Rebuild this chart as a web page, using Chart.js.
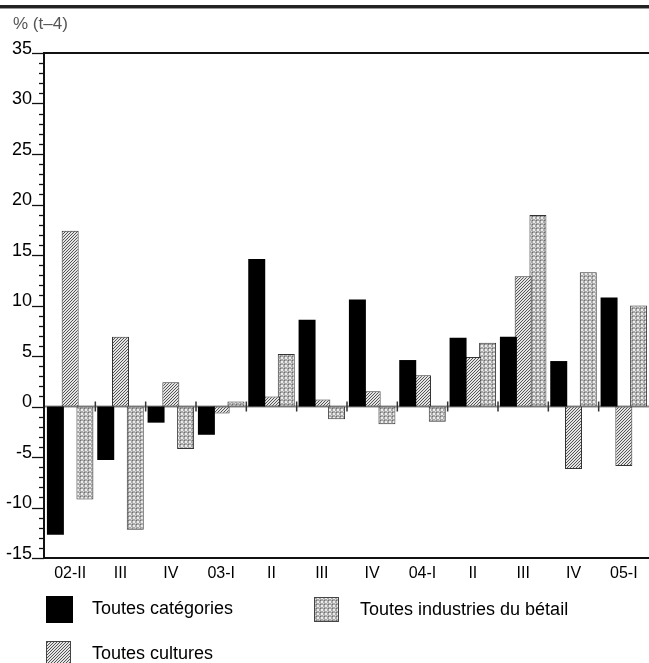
<!DOCTYPE html>
<html>
<head>
<meta charset="utf-8">
<script src="https://cdn.jsdelivr.net/npm/chart.js@4/dist/chart.umd.min.js"></script>
<style>
  html, body { margin: 0; padding: 0; background: #fff; }
  canvas { display: block; }
</style>
</head>
<body>
<canvas id="chart" width="649" height="663"></canvas>
<script>
// Data
const categories = ['02-II', 'III', 'IV', '03-I', 'II', 'III', 'IV', '04-I', 'II', 'III', 'IV', '05-I'];
const toutesCategories = [-12.7, -5.3, -1.6, -2.8, 14.6, 8.6, 10.6, 4.6, 6.8, 6.9, 4.5, 10.8];
const toutesCultures = [17.4, 6.9, 2.4, -0.7, 1.0, 0.7, 1.5, 3.1, 4.9, 12.9, -6.2, -5.9];
const toutesBetail = [-9.2, -12.2, -4.2, 0.5, 5.2, -1.25, -1.75, -1.5, 6.3, 18.95, 13.3, 10.0];
const yTicks = { min: -15, max: 35, step: 5 };
const unitLabel = '% (t\u20134)';

const FONT = '"Liberation Sans", Arial, Helvetica, sans-serif';

// Fill patterns
function makePattern(draw, size) {
    const c = document.createElement('canvas');
    c.width = size; c.height = size;
    const g = c.getContext('2d');
    draw(g);
    return g.createPattern(c, 'repeat');
}

// diagonal hatching, 3px spacing
const hatchPattern = makePattern(function(g) {
    g.fillStyle = '#e4e4e4';
    g.fillRect(0, 0, 3, 3);
    g.fillStyle = '#555';
    for (let i = 0; i < 3; i++) g.fillRect(i, 2 - i, 1, 1);
}, 3);

// small checked lattice
const dotPattern = makePattern(function(g) {
    g.fillStyle = '#a8a8a8';
    g.fillRect(0, 0, 4, 4);
    g.fillStyle = '#ececec';
    g.fillRect(1, 1, 2, 2);
    g.fillStyle = '#dcdcdc';
    g.fillRect(3, 3, 1, 1);
    g.fillStyle = '#6e6e6e';
    g.fillRect(0, 0, 1, 1);
}, 4);

function line(ctx, x1, y1, x2, y2) {
    ctx.beginPath();
    ctx.moveTo(x1, y1);
    ctx.lineTo(x2, y2);
    ctx.stroke();
}

// Zero line, frame, minor ticks, unit label and legend
const decor = {
    id: 'decor',
    beforeDatasetsDraw(chart) {
        const { ctx, chartArea: a, scales: { x, y } } = chart;
        const y0 = y.getPixelForValue(0);
        ctx.save();
        ctx.strokeStyle = '#8c8c8c';
        ctx.lineWidth = 2;
        line(ctx, a.left, y0, a.right, y0);
        ctx.strokeStyle = '#333';
        ctx.lineWidth = 1.5;
        for (let i = 1; i < categories.length; i++) {
            const bx = (x.getPixelForValue(i - 1) + x.getPixelForValue(i)) / 2;
            line(ctx, bx, y0 - 5, bx, y0 + 5);
        }
        ctx.restore();
    },
    afterDraw(chart) {
        const { ctx, chartArea: a, scales: { y } } = chart;
        ctx.save();

        // thick rule at the very top
        ctx.fillStyle = '#222';
        ctx.fillRect(0, 5, chart.width, 3);
        ctx.fillStyle = '#999';
        ctx.fillRect(0, 8, chart.width, 1);

        // frame
        ctx.strokeStyle = '#111';
        ctx.lineWidth = 2;
        line(ctx, a.left - 1, a.top, a.right, a.top);
        line(ctx, a.left - 1, a.top - 1, a.left - 1, a.bottom + 1);
        line(ctx, a.left - 1, a.bottom, a.right, a.bottom);

        // y ticks: major every 5, minor every 1
        ctx.lineWidth = 1.3;
        for (let v = yTicks.min; v <= yTicks.max; v++) {
            const py = Math.round(y.getPixelForValue(v)) + 0.5;
            const len = v % yTicks.step === 0 ? 12 : 5;
            line(ctx, a.left - 1 - len, py, a.left - 1, py);
        }

        // unit label
        ctx.fillStyle = '#555';
        ctx.font = '17px ' + FONT;
        ctx.textAlign = 'left';
        ctx.textBaseline = 'alphabetic';
        ctx.fillText(unitLabel, 13, 29);

        // legend
        const items = [
            { label: chart.data.datasets[0].label, fill: '#000', border: false, bx: 46, by: 596 },
            { label: chart.data.datasets[2].label, fill: dotPattern, border: true, bx: 314, by: 597 },
            { label: chart.data.datasets[1].label, fill: hatchPattern, border: true, bx: 46, by: 641 }
        ];
        ctx.font = '18px ' + FONT;
        ctx.textBaseline = 'middle';
        items.forEach(function(it) {
            const size = it.border ? 25 : 27;
            ctx.fillStyle = it.fill;
            ctx.fillRect(it.bx, it.by, size, size);
            if (it.border) {
                ctx.strokeStyle = '#444';
                ctx.lineWidth = 1;
                ctx.strokeRect(it.bx + 0.5, it.by + 0.5, size - 1, size - 1);
            }
            ctx.fillStyle = '#000';
            ctx.fillText(it.label, it.bx + 46, it.by + 13);
        });

        ctx.restore();
    }
};

const ctx = document.getElementById('chart').getContext('2d');
const chart = new Chart(ctx, {
    type: 'bar',
    data: {
        labels: categories,
        datasets: [
            {
                label: 'Toutes catégories',
                data: toutesCategories,
                backgroundColor: '#000',
                borderWidth: 0
            },
            {
                label: 'Toutes cultures',
                data: toutesCultures,
                backgroundColor: hatchPattern,
                borderColor: '#333',
                borderWidth: 1,
                borderSkipped: false
            },
            {
                label: 'Toutes industries du bétail',
                data: toutesBetail,
                backgroundColor: dotPattern,
                borderColor: '#333',
                borderWidth: 1,
                borderSkipped: false
            }
        ]
    },
    options: {
        responsive: false,
        animation: false,
        devicePixelRatio: 1,
        categoryPercentage: 0.88,
        barPercentage: 1.15,
        layout: { padding: { top: 53, left: 0, right: 0, bottom: 75 } },
        plugins: {
            legend: { display: false },
            tooltip: { enabled: false },
            title: { display: false }
        },
        scales: {
            x: {
                grid: { display: false, drawTicks: false },
                border: { display: false },
                ticks: {
                    color: '#000',
                    font: { family: FONT, size: 16 },
                    padding: 6,
                    maxRotation: 0,
                    autoSkip: false
                },
                afterFit: function(scale) { scale.height = 30; }
            },
            y: {
                min: yTicks.min,
                max: yTicks.max,
                grid: { display: false, drawTicks: false },
                border: { display: false },
                ticks: {
                    stepSize: yTicks.step,
                    color: '#000',
                    font: { family: FONT, size: 18 },
                    padding: 13,
                    labelOffset: -4
                },
                afterFit: function(scale) { scale.width = 45; }
            }
        }
    },
    plugins: [decor]
});
</script>
</body>
</html>
